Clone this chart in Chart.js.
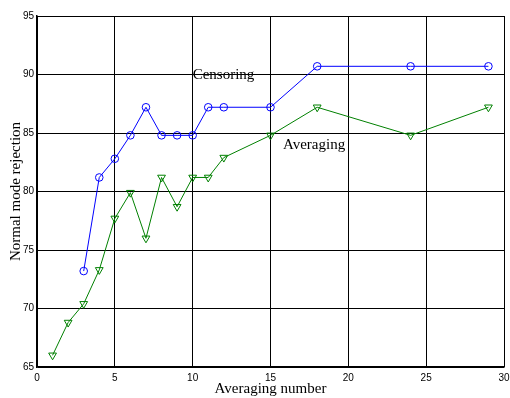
<!DOCTYPE html>
<html>
<head>
<meta charset="utf-8">
<script src="https://cdn.jsdelivr.net/npm/chart.js@4"></script>
<style>
  body { margin: 0; background: #fff; }
</style>
</head>
<body>
<canvas id="chart" width="510" height="398"></canvas>
<script>
const censorX = [3, 4, 5, 6, 7, 8, 9, 10, 11, 12, 15, 18, 24, 29];
const censorY = [73.2, 81.2, 82.8, 84.8, 87.2, 84.8, 84.8, 84.8, 87.2, 87.2, 87.2, 90.7, 90.7, 90.7];
const averX = [1, 2, 3, 4, 5, 6, 7, 8, 9, 10, 11, 12, 15, 18, 24, 29];
const averY = [66.0, 68.8, 70.4, 73.3, 77.7, 79.9, 76.0, 81.2, 78.7, 81.2, 81.2, 82.9, 84.8, 87.2, 84.8, 87.2];
const labels = [
    { text: "Censoring", x: 10.0, y: 89.6 },
    { text: "Averaging", x: 15.8, y: 83.6 }
];

function toPoints(xs, ys) {
    return xs.map(function(x, i) { return { x: x, y: ys[i] }; });
}

const textLabels = {
    id: "textLabels",
    afterDatasetsDraw(chart) {
        const ctx = chart.ctx;
        const sx = chart.scales.x, sy = chart.scales.y;
        ctx.save();
        ctx.font = "15px 'Liberation Serif'";
        ctx.fillStyle = "#000";
        ctx.textAlign = "left";
        ctx.textBaseline = "alphabetic";
        labels.forEach(function(l) {
            ctx.fillText(l.text, sx.getPixelForValue(l.x), sy.getPixelForValue(l.y));
        });
        ctx.restore();
    }
};

new Chart(document.getElementById("chart"), {
    type: "line",
    data: {
        datasets: [{
            label: "Censoring",
            data: toPoints(censorX, censorY),
            borderColor: "#0000ff",
            borderWidth: 1,
            pointStyle: "circle",
            pointRadius: 3.8,
            pointBorderColor: "#0000ff",
            pointBackgroundColor: "transparent",
            pointBorderWidth: 1,
            tension: 0
        }, {
            label: "Averaging",
            data: toPoints(averX, averY),
            borderColor: "#008000",
            borderWidth: 1,
            pointStyle: "triangle",
            pointRotation: 180,
            pointRadius: 4.5,
            pointBorderColor: "#008000",
            pointBackgroundColor: "transparent",
            pointBorderWidth: 1,
            tension: 0
        }]
    },
    options: {
        responsive: false,
        animation: false,
        layout: { padding: { left: 0, right: 6, top: 16, bottom: 0 } },
        plugins: {
            legend: { display: false },
            tooltip: { enabled: false }
        },
        scales: {
            x: {
                type: "linear",
                min: 0,
                max: 30,
                afterFit(scale) {
                    scale.height = 31;
                    scale.paddingLeft = 0;
                    scale.paddingRight = 0;
                },
                ticks: {
                    stepSize: 5,
                    color: "#000",
                    padding: 5,
                    maxRotation: 0,
                    font: { family: "'Liberation Sans'", size: 10 }
                },
                grid: { color: "#000", lineWidth: 1, drawTicks: false },
                border: { color: "#000", width: 1.5 },
                title: {
                    display: true,
                    text: "Averaging number",
                    color: "#000",
                    padding: { top: 0, bottom: 0 },
                    font: { family: "'Liberation Serif'", size: 15 }
                }
            },
            y: {
                min: 65,
                max: 95,
                afterFit(scale) {
                    scale.width = 37;
                    scale.paddingTop = 0;
                    scale.paddingBottom = 0;
                },
                ticks: {
                    stepSize: 5,
                    color: "#000",
                    padding: 3,
                    font: { family: "'Liberation Sans'", size: 10 }
                },
                grid: { color: "#000", lineWidth: 1, drawTicks: false },
                border: { color: "#000", width: 1.5 },
                title: {
                    display: true,
                    text: "Normal mode rejection",
                    color: "#000",
                    padding: { top: 7, bottom: 0 },
                    font: { family: "'Liberation Serif'", size: 15 }
                }
            }
        }
    },
    plugins: [textLabels]
});
</script>
</body>
</html>
